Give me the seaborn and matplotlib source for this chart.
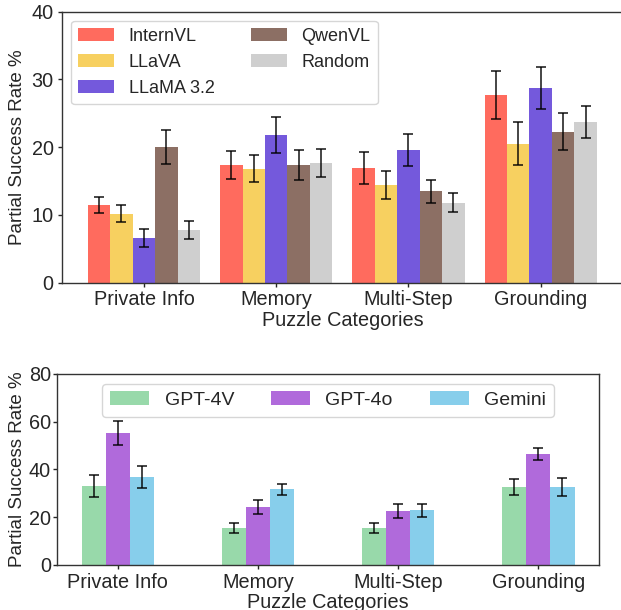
import numpy as np
import pandas as pd
import matplotlib
matplotlib.use("Agg")
import matplotlib.pyplot as plt
import seaborn as sns

# data
categories = ['Private Info', 'Memory', 'Multi-Step', 'Grounding']

open_models = ['InternVL', 'LLaVA', 'LLaMA 3.2', 'QwenVL', 'Random']
internvl = [11.5, 17.4, 16.9, 27.7]
llava = [10.2, 16.8, 14.4, 20.5]
llama = [6.6, 21.8, 19.6, 28.8]
qwenvl = [20.0, 17.4, 13.5, 22.3]
random_base = [7.8, 17.7, 11.8, 23.7]
internvl_err = [1.2, 2.1, 2.4, 3.55]
llava_err = [1.3, 2.0, 2.1, 3.2]
llama_err = [1.3, 2.65, 2.35, 3.1]
qwenvl_err = [2.5, 2.2, 1.7, 2.7]
random_err = [1.3, 2.1, 1.4, 2.4]

closed_models = ['GPT-4V', 'GPT-4o', 'Gemini']
gpt4v = [33.1, 15.5, 15.5, 32.7]
gpt4o = [55.3, 24.3, 22.6, 46.5]
gemini = [36.9, 31.8, 23.0, 32.7]
gpt4v_err = [4.5, 2.0, 2.1, 3.3]
gpt4o_err = [4.9, 3.1, 2.8, 2.7]
gemini_err = [4.75, 2.3, 2.7, 3.6]

open_colors = ['#FF6B5E', '#F7D060', '#7459DC', '#8C6F64', '#CFCFCF']
closed_colors = ['#98D9AA', '#B06ADB', '#87CEEB']

sns.set_theme(style="ticks")
plt.rcParams['font.family'] = ['Liberation Sans', 'DejaVu Sans']
plt.rcParams['axes.edgecolor'] = '#333333'
plt.rcParams['axes.linewidth'] = 1.0
plt.rcParams['xtick.major.size'] = 3.0
plt.rcParams['ytick.major.size'] = 3.0
plt.rcParams['xtick.major.width'] = 1.0
plt.rcParams['ytick.major.width'] = 1.0


def long_table(models, values):
    rows = []
    for m, vals in zip(models, values):
        for c, v in zip(categories, vals):
            rows.append({'category': c, 'model': m, 'value': v})
    return pd.DataFrame(rows)


def draw(ax, models, values, errors, colors, width):
    df = long_table(models, values)
    sns.barplot(data=df, x='category', y='value', hue='model', order=categories,
                hue_order=models, palette=dict(zip(models, colors)), width=width,
                saturation=1, errorbar=None, linewidth=0, ax=ax)
    for cont, err in zip(ax.containers, errors):
        xs = [p.get_x() + p.get_width() / 2 for p in cont.patches]
        ys = [p.get_height() for p in cont.patches]
        ax.errorbar(xs, ys, yerr=err, fmt='none', ecolor='black', alpha=0.85,
                    elinewidth=1.2, capsize=3.5, capthick=1.2)


fig = plt.figure(figsize=(6.21, 6.10), dpi=100)

ax1 = fig.add_axes([0.0998, 0.5366, 0.903, 0.4443])
draw(ax1, open_models, [internvl, llava, llama, qwenvl, random_base],
     [internvl_err, llava_err, llama_err, qwenvl_err, random_err], open_colors, 0.85)
ax1.set_xlim(-0.62, 3.62)
ax1.set_ylim(0, 40)
ax1.set_yticks([0, 10, 20, 30, 40])
ax1.set_xlabel('Puzzle Categories', fontsize=14.3, labelpad=1)
ax1.set_ylabel('Partial Success Rate %', fontsize=13.5)
ax1.tick_params(labelsize=14.3)
ax1.tick_params(axis='y', pad=3)
ax1.tick_params(axis='x', pad=2.5)
h, l = ax1.get_legend_handles_labels()
ax1.legend(h, l, loc='upper left', ncol=2, fontsize=13)

ax2 = fig.add_axes([0.0918, 0.0738, 0.8733, 0.3131])
draw(ax2, closed_models, [gpt4v, gpt4o, gemini],
     [gpt4v_err, gpt4o_err, gemini_err], closed_colors, 0.514)
ax2.set_xlim(-0.434, 3.434)
ax2.set_ylim(0, 80)
ax2.set_yticks([0, 20, 40, 60, 80])
ax2.set_xlabel('Puzzle Categories', fontsize=14.3, labelpad=1)
ax2.set_ylabel('Partial Success Rate %', fontsize=13.5, labelpad=2)
ax2.tick_params(labelsize=14.3)
ax2.tick_params(axis='y', pad=1.5)
ax2.tick_params(axis='x', pad=2.5)
h, l = ax2.get_legend_handles_labels()
ax2.legend(h, l, loc='upper center', ncol=3, fontsize=14, columnspacing=1.9)

fig.savefig('out.png', dpi=100)
